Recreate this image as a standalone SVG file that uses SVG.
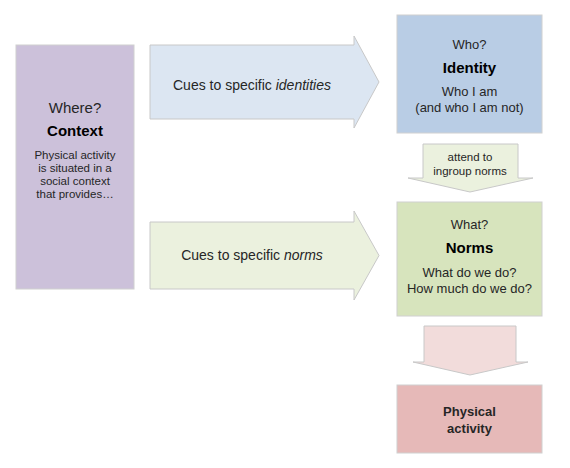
<svg xmlns="http://www.w3.org/2000/svg" width="570" height="468" viewBox="0 0 570 468">
<style>
text{font-family:"Liberation Sans",Arial,sans-serif;fill:#262626;text-anchor:middle}
.t{font-size:15px}
.b{font-size:15px;font-weight:bold;fill:#000}
.s{font-size:11.5px}
.m{font-size:13px}
.c{font-size:14px}
.a{font-size:11.5px}
.box{stroke:#d0d0d0;stroke-width:1}
.arr{stroke:#c8c8c8;stroke-width:1}
</style>
<rect width="570" height="468" fill="#fff"/>
<g id="connectors">
<g id="arrow-identities">
<path class="arr" d="M150,45 H354 V36 L379,82 L354,128 V119 H150 Z" fill="#dce6f2"/>
<text class="c" x="252" y="90">Cues to specific <tspan font-style="italic">identities</tspan></text>
</g>
<g id="arrow-norms">
<path class="arr" d="M150,222 H354 V211 L379,255.5 L354,300 V289 H150 Z" fill="#ebf1de"/>
<text class="c" x="252" y="260">Cues to specific <tspan font-style="italic">norms</tspan></text>
</g>
<g id="arrow-attend">
<path class="arr" d="M423,144 H518 V178 H533 L470,192 L408,178 H423 Z" fill="#ebf1de"/>
<text class="a" x="470" y="161">attend to</text>
<text class="a" x="470" y="175">ingroup norms</text>
</g>
<g id="arrow-activity">
<path class="arr" d="M424,326 H516 V362 H528 L470,375 L413,362 H424 Z" fill="#f2dcdb"/>
</g>
</g>
<g id="context">
<rect class="box" x="16" y="45" width="118" height="244" fill="#ccc1da"/>
<text class="t" x="75" y="113">Where?</text>
<text class="b" x="75" y="136">Context</text>
<text class="s" x="75" y="159">Physical activity</text>
<text class="s" x="75" y="172">is situated in a</text>
<text class="s" x="75" y="185">social context</text>
<text class="s" x="75" y="198">that provides…</text>
</g>
<g id="identity">
<rect class="box" x="397" y="15" width="145" height="118" fill="#b9cde5"/>
<text class="m" x="469.5" y="49">Who?</text>
<text class="b" x="469.5" y="73">Identity</text>
<text class="m" x="469.5" y="96">Who I am</text>
<text class="m" x="469.5" y="112">(and who I am not)</text>
</g>
<g id="norms">
<rect class="box" x="397" y="202" width="145" height="114" fill="#d7e4bd"/>
<text class="m" x="469.5" y="229">What?</text>
<text class="b" x="469.5" y="253">Norms</text>
<text class="m" x="469.5" y="277">What do we do?</text>
<text class="m" x="469.5" y="293">How much do we do?</text>
</g>
<g id="physical-activity">
<rect class="box" x="397" y="385" width="145" height="68" fill="#e6b9b8"/>
<text class="m" x="469.5" y="416" font-weight="bold" fill="#000">Physical</text>
<text class="m" x="469.5" y="433" font-weight="bold" fill="#000">activity</text>
</g>
</svg>
